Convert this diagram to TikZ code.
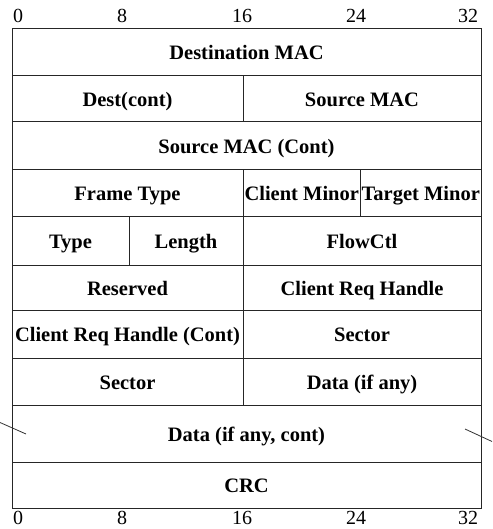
\documentclass[tikz,border=0pt]{standalone}
\usepackage{fontspec}
\setmainfont{Liberation Serif}
\begin{document}
\begin{tikzpicture}[x=1pt,y=-1pt,
  field/.style={draw=black!85,line width=1pt,rectangle,inner sep=0pt,text height=17pt,text depth=2pt,font=\fontsize{20.5}{20.5}\selectfont\bfseries},
  bitnum/.style={inner sep=0pt,font=\fontsize{20}{20}\selectfont},
  slant/.style={draw=black!80,line width=0.8pt}]
\useasboundingbox (0,0) rectangle (492,529);
\newcommand{\fld}[6]{\node[field,minimum width={#4-#2},minimum height={#5-#3}] (#1) at ({(#2+#4)/2},{(#3+#5)/2}) {#6};}
% bit numbers
\foreach \v/\xx in {0/18,8/122,16/242,24/356,32/468}{
  \node[bitnum] (t\v) at (\xx,16) {\v};
  \node[bitnum] (b\v) at (\xx,518) {\v};
}
\fld{dmac}{12}{29}{481}{75.5}{Destination MAC}
\fld{dcont}{12}{75.5}{243}{122}{Dest(cont)}
\fld{smac}{243}{75.5}{481}{122}{Source MAC}
\fld{smacc}{12}{122}{481}{170}{Source MAC (Cont)}
\fld{ftype}{12}{170}{243}{216.5}{Frame Type}
\fld{cmin}{243}{170}{360.5}{216.5}{Client Minor}
\fld{tmin}{360.5}{170}{481}{216.5}{Target Minor}
\fld{type}{12}{216.5}{129}{265}{Type}
\fld{len}{129}{216.5}{243}{265}{Length}
\fld{flow}{243}{216.5}{481}{265}{FlowCtl}
\fld{res}{12}{265}{243}{310}{Reserved}
\fld{crh}{243}{265}{481}{310}{Client Req Handle}
\fld{crhc}{12}{310}{243}{358}{Client Req Handle (Cont)}
\fld{sec}{243}{310}{481}{358}{Sector}
\fld{sec2}{12}{358}{243}{405}{Sector}
\fld{data}{243}{358}{481}{405}{Data (if any)}
\fld{datac}{12}{405}{481}{462}{Data (if any, cont)}
\fld{crc}{12}{462}{481}{508}{CRC}
% break marks
\coordinate (l1) at (0,422.5);
\coordinate (l2) at (26,434);
\coordinate (r1) at (465,429);
\coordinate (r2) at (492,441.5);
\draw[slant] (l1) -- (l2);
\draw[slant] (r1) -- (r2);
\end{tikzpicture}
\end{document}
